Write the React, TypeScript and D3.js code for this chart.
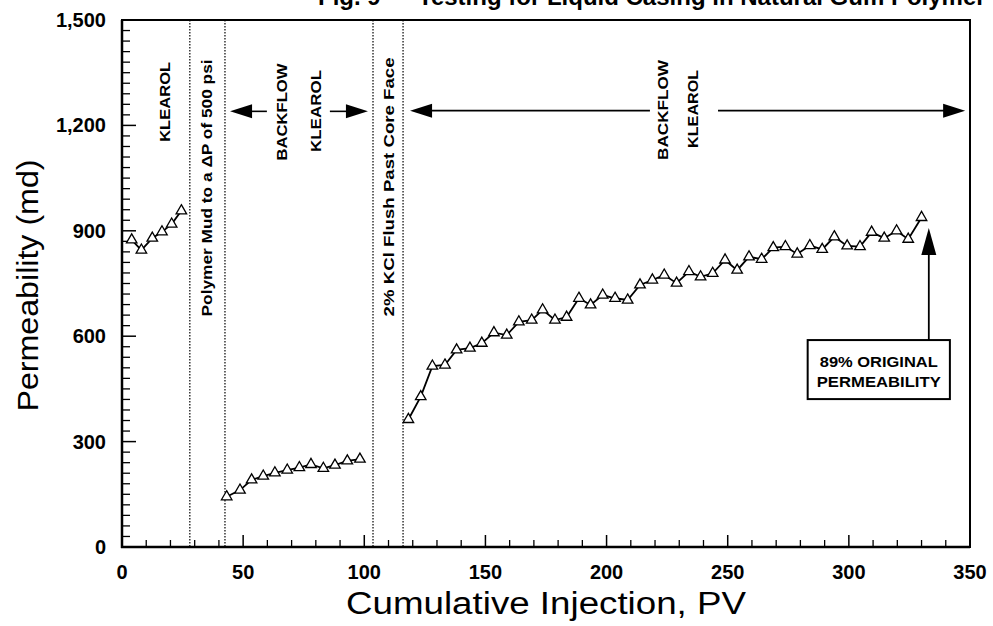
import React from "react";
import * as d3 from "d3";

// KLEAROL injection before mud
const klearolX = [4, 8, 12.5, 16.5, 20.5, 24.5];
const klearolPerm = [874, 845, 879, 897, 919, 957];

// first backflow after polymer mud
const backflow1X = [43.2, 48.7, 53.5, 58.3, 63.1, 68.2, 73.2, 78, 83.1, 87.9, 93, 98.2];
const backflow1Perm = [143, 162, 191, 202, 211, 219, 226, 235, 224, 233, 245, 250];

// second backflow after KCl flush
const backflow2X = [
  118.2, 123.3, 128.1, 133.3, 138.1, 143.6, 148.5, 153.5, 158.8, 163.8, 169.1,
  173.6, 178.7, 183.5, 188.6, 193.4, 198.4, 203.5, 208.7, 213.8, 218.9, 223.8,
  228.9, 234, 238.8, 243.8, 248.9, 253.9, 258.8, 264, 268.8, 273.8, 278.7,
  283.9, 289, 294, 299.3, 304.6, 309.4, 314.6, 319.7, 324.5, 330,
];
const backflow2Perm = [
  363, 428, 515, 518, 561, 566, 580, 610, 603, 641, 646, 675, 646, 654, 708,
  689, 717, 708, 703, 746, 760, 774, 751, 784, 769, 779, 817, 788, 826, 819,
  852, 855, 834, 858, 847, 883, 857, 855, 896, 879, 900, 876, 938,
];

const xTicks = [0, 50, 100, 150, 200, 250, 300, 350];
const yTicks = [0, 300, 600, 900, 1200, 1500];
const yTickLabels = ["0", "300", "600", "900", "1,200", "1,500"];
const eventX = [28, 42.5, 103.6, 116];

const W = 993;
const H = 626;
const FONT = "'Liberation Sans', Arial, Helvetica, sans-serif";

const x = d3.scaleLinear().domain([0, 350]).range([122, 970]);
const y = d3.scaleLinear().domain([0, 1500]).range([547, 20]);

const line = d3
  .line<[number, number]>()
  .x((d) => x(d[0]))
  .y((d) => y(d[1]));

const tri = d3.symbol(d3.symbolTriangle, 48)();

function zip(xs: number[], ys: number[]): [number, number][] {
  return xs.map((v, i) => [v, ys[i]]);
}

// arrow head polygon with tip at (tx,ty) pointing in direction (dx,dy)
function head(tx: number, ty: number, dx: number, dy: number, len: number, hw: number) {
  const bx = tx - dx * len;
  const by = ty - dy * len;
  const px = -dy * hw;
  const py = dx * hw;
  return `M${tx},${ty}L${bx + px},${by + py}L${bx - px},${by - py}Z`;
}

function HArrow({ from, to, at }: { from: number; to: number; at: number }) {
  const dir = to > from ? 1 : -1;
  return (
    <g>
      <line x1={x(from)} x2={x(to) - dir * 10} y1={y(at)} y2={y(at)} stroke="#000" strokeWidth={1.6} />
      <path d={head(x(to), y(at), dir, 0, 22, 7)} fill="#000" />
    </g>
  );
}

function VText({ px, py, text, len, size = 14 }: { px: number; py: number; text: string; len: number; size?: number }) {
  return (
    <text
      transform={`translate(${x(px)},${y(py)}) rotate(-90)`}
      textAnchor="middle"
      dominantBaseline="central"
      fontSize={size}
      fontWeight="bold"
      fontFamily={FONT}
      textLength={len}
      lengthAdjust="spacingAndGlyphs"
    >
      {text}
    </text>
  );
}

export default function App() {
  const series = [zip(klearolX, klearolPerm), zip(backflow1X, backflow1Perm), zip(backflow2X, backflow2Perm)];
  const minorY = d3.range(0, 1501, 30).filter((v) => v % 300 !== 0);
  const minorX = d3.range(0, 351, 10).filter((v) => v % 50 !== 0);

  return (
    <svg width={W} height={H} style={{ position: "absolute", left: 0, top: 0, background: "#fff" }}>
      <rect width={W} height={H} fill="#fff" />

      {/* caption, cut by the top edge as in the scan */}
      <text x={318} y={5} fontSize={24} fontWeight="bold" fontFamily={FONT}>
        Fig. 9 — Testing for Liquid Casing in Natural Gum Polymer Mud
      </text>

      {/* event lines */}
      {eventX.map((v) => (
        <line key={v} x1={x(v)} x2={x(v)} y1={y(1500)} y2={y(0)} stroke="#000" strokeWidth={1.2} strokeDasharray="1.5,1.5" />
      ))}

      {/* frame */}
      <rect x={x(0)} y={y(1500)} width={x(350) - x(0)} height={y(0) - y(1500)} fill="none" stroke="#000" strokeWidth={2} />
      <line x1={x(0)} x2={x(0)} y1={y(1500)} y2={y(0) + 1} stroke="#000" strokeWidth={2.5} />
      <line x1={x(0) - 1} x2={x(350)} y1={y(0)} y2={y(0)} stroke="#000" strokeWidth={2.5} />

      {/* y ticks */}
      {minorY.map((v) => (
        <line key={"my" + v} x1={x(0)} x2={x(0) + 8} y1={y(v)} y2={y(v)} stroke="#000" strokeWidth={1.3} />
      ))}
      {yTicks.map((v, i) => (
        <g key={"y" + v}>
          <line x1={x(0)} x2={x(0) + 14} y1={y(v)} y2={y(v)} stroke="#000" strokeWidth={1.5} />
          <text x={106} y={y(v)} textAnchor="end" dominantBaseline="central" fontSize={20} fontWeight="bold" fontFamily={FONT}>
            {yTickLabels[i]}
          </text>
        </g>
      ))}

      {/* x ticks */}
      {minorX.map((v) => (
        <line key={"mx" + v} x1={x(v)} x2={x(v)} y1={y(0)} y2={y(0) - 7} stroke="#000" strokeWidth={1.3} />
      ))}
      {xTicks.map((v) => (
        <g key={"x" + v}>
          <line x1={x(v)} x2={x(v)} y1={y(0)} y2={y(0) - 12} stroke="#000" strokeWidth={1.5} />
          <text x={x(v)} y={579} textAnchor="middle" fontSize={20} fontWeight="bold" fontFamily={FONT}>
            {v}
          </text>
        </g>
      ))}

      {/* axis titles */}
      <text
        transform={`translate(38,${(y(0) + y(1500)) / 2 + 2}) rotate(-90)`}
        textAnchor="middle"
        fontSize={30}
        fontFamily={FONT}
        textLength={252}
        lengthAdjust="spacingAndGlyphs"
      >
        Permeability (md)
      </text>
      <text x={546} y={614} textAnchor="middle" fontSize={31} fontFamily={FONT} textLength={400} lengthAdjust="spacingAndGlyphs">
        Cumulative Injection, PV
      </text>

      {/* data */}
      {series.map((s, i) => (
        <g key={"s" + i}>
          <path d={line(s) || ""} fill="none" stroke="#000" strokeWidth={1.8} />
          {s.map((d, j) => (
            <path key={j} d={tri || ""} transform={`translate(${x(d[0])},${y(d[1])})`} fill="#fff" stroke="#000" strokeWidth={1.3} />
          ))}
        </g>
      ))}

      {/* stage labels */}
      <VText px={17.7} py={1267} text="KLEAROL" len={80} />
      <VText px={35} py={1022} text="Polymer Mud to a ΔP of 500 psi" len={257} />
      <VText px={66} py={1238} text="BACKFLOW" len={97} />
      <VText px={80} py={1241} text="KLEAROL" len={82} />
      <VText px={110} py={1025} text="2% KCl Flush Past Core Face" len={259} />
      <VText px={223.3} py={1244} text="BACKFLOW" len={100} />
      <VText px={235.7} py={1247} text="KLEAROL" len={78} />

      <HArrow from={59.8} to={44.6} at={1240} />
      <HArrow from={85.8} to={101.5} at={1240} />
      <HArrow from={217.9} to={118.9} at={1242} />
      <HArrow from={246} to={348} at={1242} />

      {/* 89% annotation */}
      <line x1={x(333)} x2={x(333)} y1={y(589)} y2={y(908) + 20} stroke="#000" strokeWidth={1.8} />
      <path d={head(x(333), y(908), 0, -1, 27, 7.5)} fill="#000" />
      <rect x={x(283)} y={y(589)} width={x(341.7) - x(283)} height={y(421) - y(589)} fill="#fff" stroke="#000" strokeWidth={2} />
      <text x={(x(283) + x(341.7)) / 2} y={367} textAnchor="middle" fontSize={14} fontWeight="bold" fontFamily={FONT} textLength={118} lengthAdjust="spacingAndGlyphs">
        89% ORIGINAL
      </text>
      <text x={(x(283) + x(341.7)) / 2} y={387} textAnchor="middle" fontSize={14} fontWeight="bold" fontFamily={FONT} textLength={124} lengthAdjust="spacingAndGlyphs">
        PERMEABILITY
      </text>
    </svg>
  );
}
